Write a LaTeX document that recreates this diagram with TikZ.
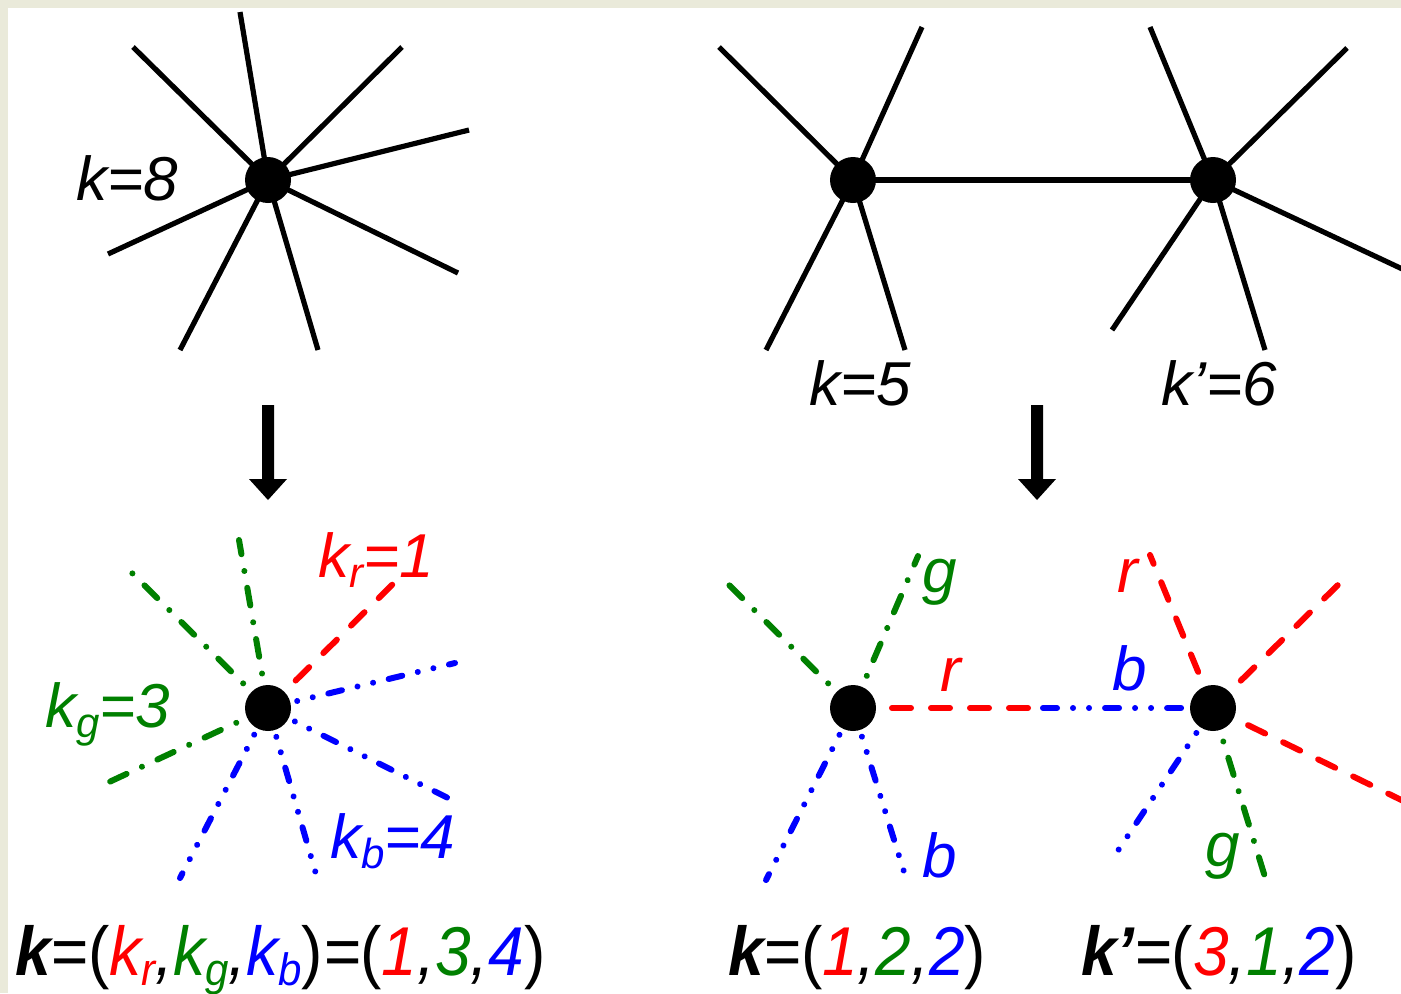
\documentclass[tikz,border=0pt]{standalone}
\usepackage{fontspec}
\setmainfont{Liberation Sans}
\definecolor{rd}{RGB}{255,0,0}
\definecolor{gr}{RGB}{0,128,0}
\definecolor{bl}{RGB}{0,0,255}
\definecolor{bgc}{RGB}{234,234,218}
\newcommand{\sbs}[1]{\raisebox{-5pt}{\fontsize{21}{21}\selectfont #1}}
\newcommand{\upp}[1]{{\upshape #1}}
\begin{document}
\begin{tikzpicture}[x=0.5pt,y=-0.5pt,
  edge/.style={line width=2.6pt,black},
  dot/.style={circle,fill=black,minimum size=23pt,inner sep=0pt},
  lbl/.style={font=\fontsize{31}{36}\selectfont\itshape,inner sep=0pt},
  frm/.style={font=\fontsize{32}{36}\selectfont\itshape,inner sep=0pt},
  redl/.style={line width=3pt,rd,line cap=round,dash pattern=on 9.5pt off 10pt},
  grnl/.style={line width=3pt,gr,line cap=round,dash pattern=on 9pt off 8.5pt on 0.01pt off 8.5pt},
  blul/.style={line width=3pt,bl,line cap=round,dash pattern=on 7pt off 8pt on 0.01pt off 8pt on 0.01pt off 8pt},
  bigarrow/.style={fill=black}]
\fill[bgc] (0,0) rectangle (1401,993);
\fill[white] (8,8) rectangle (1401,993);
\useasboundingbox (0,0) rectangle (1401,993);

% ---------- top left star ----------
\coordinate (s) at (268,180);
\coordinate (s1) at (133,47); \coordinate (s2) at (240,12);
\coordinate (s3) at (402,47); \coordinate (s4) at (469,130);
\coordinate (s5) at (458,273); \coordinate (s6) at (318,350);
\coordinate (s7) at (180,350); \coordinate (s8) at (108,254);
\foreach \i in {1,...,8} \draw[edge] (s) -- (s\i);
\node[dot] (S) at (s) {};
\node[lbl,anchor=base] (lk8) at (127,200) {k=8};

% ---------- top right pair ----------
\coordinate (a) at (853,180);
\coordinate (b) at (1213,180);
\coordinate (a1) at (719,47); \coordinate (a2) at (922,27);
\coordinate (a3) at (766,350); \coordinate (a4) at (905,350);
\coordinate (b1) at (1150,27); \coordinate (b2) at (1347,48);
\coordinate (b3) at (1430,282); \coordinate (b4) at (1265,350);
\coordinate (b5) at (1112,330);
\foreach \i in {1,...,4} \draw[edge] (a) -- (a\i);
\foreach \i in {1,...,5} \draw[edge] (b) -- (b\i);
\draw[edge] (a) -- (b);
\node[dot] (A) at (a) {};
\node[dot] (B) at (b) {};
\node[lbl,anchor=base] (lk5) at (860,405) {k=5};
\node[lbl,anchor=base] (lk6) at (1219,405) {k’=6};

% ---------- arrows ----------
\coordinate (ar1) at (268,405);
\coordinate (ar2) at (1037,405);
\foreach \c in {ar1,ar2}
  \fill[bigarrow] (\c) ++(-6,0) -- ++(12,0) -- ++(0,74) -- ++(13,0) -- ++(-19,21) -- ++(-19,-21) -- ++(13,0) -- cycle;

% ---------- bottom left star ----------
\coordinate (t) at (268,708);
\coordinate (t1) at (132,573); \coordinate (t2) at (239,540);
\coordinate (t3) at (402,575); \coordinate (t4) at (455,663);
\coordinate (t5) at (458,803); \coordinate (t6) at (316,874);
\coordinate (t7) at (180,878); \coordinate (t8) at (107,783);
\draw[grnl] (t) -- (t1);
\draw[grnl] (t) -- (t2);
\draw[grnl] (t) -- (t8);
\draw[redl] (t) -- (t3);
\foreach \i in {4,5,6,7} \draw[blul] (t) -- (t\i);
\node[dot] (T) at (t) {};
\node[lbl,anchor=base west,text=rd] (lkr) at (318,577) {k\sbs{r}=1};
\node[lbl,anchor=base west,text=gr] (lkg) at (45,727) {k\sbs{g}=3};
\node[lbl,anchor=base west,text=bl] (lkb) at (330,858) {k\sbs{b}=4};
\node[frm,anchor=base west] (f1) at (15,975) {\scalebox{1}[1.08]{{\bfseries k}=\upp{(}\textcolor{rd}{k\sbs{r}},\textcolor{gr}{k\sbs{g}},\textcolor{bl}{k\sbs{b}}\upp{)}=\upp{(}\textcolor{rd}{1},\textcolor{gr}{3},\textcolor{bl}{4}\upp{)}}};

% ---------- bottom right pair ----------
\coordinate (c) at (853,708);
\coordinate (d) at (1213,708);
\coordinate (m) at (1043,708);
\coordinate (c1) at (719,575); \coordinate (c2) at (918,556);
\coordinate (c3) at (766,880); \coordinate (c4) at (905,875);
\coordinate (d1) at (1150,555); \coordinate (d2) at (1347,576);
\coordinate (d3) at (1430,814); \coordinate (d4) at (1117,852);
\coordinate (d5) at (1265,877);
\draw[grnl] (c) -- (c1);
\draw[grnl] (c) -- (c2);
\draw[blul] (c) -- (c3);
\draw[blul] (c) -- (c4);
\draw[redl] (c) -- (m);
\draw[blul] (m) -- (d);
\draw[redl] (d) -- (d1);
\draw[redl] (d) -- (d2);
\draw[redl] (d) -- (d3);
\draw[blul] (d) -- (d4);
\draw[grnl] (d) -- (d5);
\node[dot] (C) at (c) {};
\node[dot] (D) at (d) {};
\node[lbl,anchor=base west,text=gr] (lg1) at (922,592) {g};
\node[lbl,anchor=base west,text=rd] (lr1) at (940,691) {r};
\node[lbl,anchor=base west,text=bl] (lb1) at (1112,690) {b};
\node[lbl,anchor=base west,text=bl] (lb2) at (922,877) {b};
\node[lbl,anchor=base west,text=rd] (lr2) at (1117,592) {r};
\node[lbl,anchor=base west,text=gr] (lg2) at (1205,866) {g};
\node[frm,anchor=base] (f2) at (857,975) {\scalebox{1}[1.08]{{\bfseries k}=\upp{(}\textcolor{rd}{1},\textcolor{gr}{2},\textcolor{bl}{2}\upp{)}}};
\node[frm,anchor=base] (f3) at (1219,975) {\scalebox{1}[1.08]{{\bfseries k’}=\upp{(}\textcolor{rd}{3},\textcolor{gr}{1},\textcolor{bl}{2}\upp{)}}};
\end{tikzpicture}
\end{document}
